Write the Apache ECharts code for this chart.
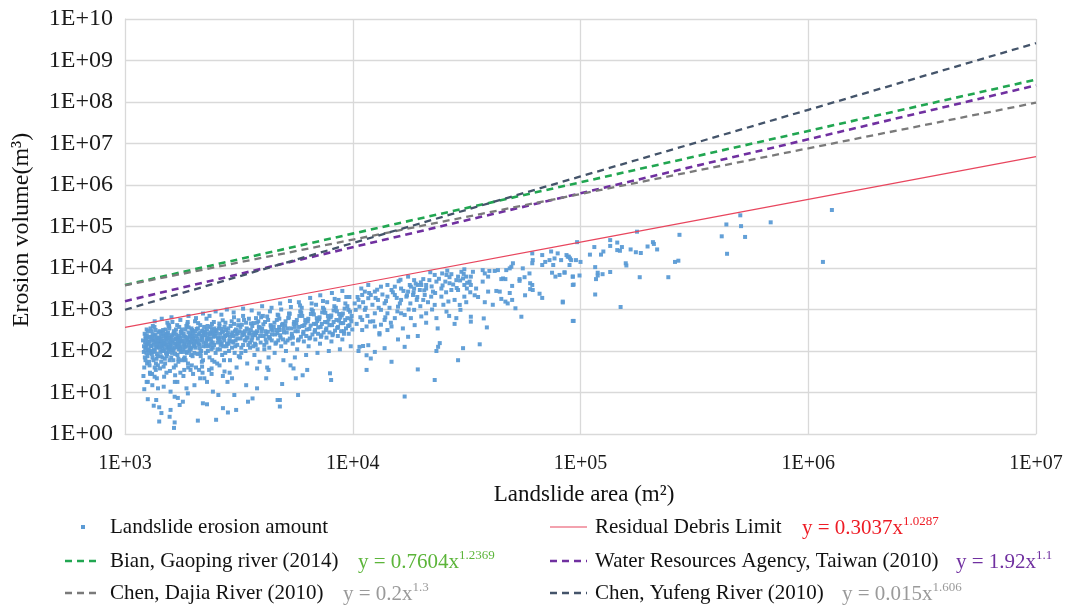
<!DOCTYPE html>
<html>
<head>
<meta charset="utf-8">
<script src="https://cdn.jsdelivr.net/npm/echarts@6/dist/echarts.min.js"></script>
<style>
html,body{margin:0;padding:0;background:#fff;}
#chart{width:1069px;height:606px;}
</style>
</head>
<body>
<div id="chart"></div>
<script>
// ---------------- DATA ----------------
const seriesNames = ['Landslide erosion amount','Residual Debris Limit','Bian, Gaoping river (2014)','Water Resources Agency, Taiwan (2010)','Chen, Dajia River (2010)','Chen, Yufeng River (2010)'];
const xTickLabels = ['1E+03','1E+04','1E+05','1E+06','1E+07'];
const yTickLabels = ['1E+00','1E+01','1E+02','1E+03','1E+04','1E+05','1E+06','1E+07','1E+08','1E+09','1E+10'];
const equations = ['y = 0.3037x|1.0287','y = 0.7604x|1.2369','y = 1.92x|1.1','y = 0.2x|1.3','y = 0.015x|1.606'];

// trend lines (read at each decade of landslide area)
const lineX    = [1e3, 1e4, 1e5, 1e6, 1e7];
const residualY = [370, 3955, 42230, 451400, 4824000];
const bianY     = [3905, 67390, 1162700, 20060000, 346200000];
const wraY      = [1589, 31700, 632500, 12620000, 251800000];
const dajiaY    = [3831, 48230, 607200, 7644000, 96230000];
const yufengY   = [986, 39820, 1607000, 64880000, 2619000000];

// scatter: landslide area (m2), erosion volume (m3)
const denseCloud = [
[1200,180],[1210,95],[1220,260],[1230,60],[1240,140],[1250,210],[1215,40],[1235,120],[1245,330],[1255,75],[1225,160],[1205,25],[1260,105],[1250,50],[1230,230],[1215,12],[1245,18],
[1270,150],[1280,90],[1290,220],[1300,130],[1310,300],[1320,70],[1330,180],[1340,110],[1350,40],[1360,250],[1370,160],[1380,85],[1390,200],[1400,120],[1275,55],[1295,350],[1315,28],[1335,140],[1355,190],[1375,65],[1395,45],[1285,170],[1305,100],[1325,400],[1345,230],[1365,35],[1385,130],[1405,280],
[1420,160],[1430,95],[1440,230],[1450,130],[1460,70],[1470,320],[1480,180],[1490,110],[1500,50],[1510,260],[1520,140],[1530,85],[1540,200],[1550,430],[1560,120],[1570,60],[1580,170],[1425,38],[1445,290],[1465,150],[1485,24],[1505,210],[1525,75],[1545,115],[1565,350],[1575,33],[1435,190],[1455,105],[1495,145],[1535,480],[1555,240],
[1590,140],[1600,220],[1610,90],[1620,170],[1630,60],[1640,300],[1650,120],[1660,190],[1670,45],[1680,250],[1690,150],[1700,80],[1710,210],[1720,110],[1730,380],[1740,160],[1750,30],[1760,130],[1770,270],[1595,70],[1615,500],[1635,105],[1655,18],[1675,200],[1695,125],[1715,55],[1735,175],[1755,95],[1775,330],
[1790,180],[1800,110],[1810,260],[1820,150],[1830,70],[1840,220],[1850,130],[1860,400],[1870,90],[1880,190],[1890,50],[1900,280],[1910,140],[1920,100],[1930,230],[1940,35],[1950,160],[1960,120],[1970,320],[1980,75],[1990,200],[1805,25],[1845,60],[1885,500],[1925,170],[1965,45],
[2000,210],[2020,130],[2040,300],[2060,170],[2080,85],[2100,250],[2120,140],[2140,420],[2160,100],[2180,190],[2200,60],[2220,280],[2010,150],[2050,40],[2090,350],[2130,115],[2170,230],[2210,160],[2230,22],[2030,520],[2150,75],[2190,30],
[2250,240],[2270,150],[2290,330],[2310,100],[2330,200],[2350,70],[2370,280],[2390,170],[2410,450],[2430,120],[2450,220],[2470,55],[2490,300],[2260,130],[2300,190],[2340,35],[2380,380],[2420,260],[2460,140],[2500,90],[2280,600],[2400,28],
[2520,260],[2550,160],[2580,350],[2610,110],[2640,210],[2670,80],[2700,300],[2730,180],[2760,480],[2790,130],[2810,240],[2540,50],[2600,400],[2660,150],[2720,60],[2780,320],[2570,200],[2690,25],[2750,230],[2630,140],
[2830,280],[2870,180],[2910,400],[2950,120],[2990,230],[3030,90],[3070,330],[3110,200],[3150,550],[2850,150],[2890,60],[2930,250],[2970,170],[3010,450],[3050,130],[3090,40],[3130,270],[2880,30],
[3180,300],[3220,200],[3260,430],[3300,140],[3340,250],[3380,100],[3420,350],[3460,210],[3500,600],[3540,160],[3200,70],[3280,280],[3360,180],[3440,50],[3520,260],[3240,120],[3400,480],
[3570,320],[3620,210],[3670,470],[3720,150],[3770,270],[3820,110],[3870,380],[3920,230],[3960,650],[3600,180],[3700,80],[3800,300],[3900,55],[3650,250],[3750,140],[3850,520],
[4000,350],[4060,230],[4120,500],[4180,160],[4240,290],[4300,120],[4360,420],[4420,250],[4030,700],[4150,190],[4270,70],[4390,330],[4090,110],[4210,40],[4330,200],
[4500,380],[4570,250],[4640,560],[4710,180],[4780,320],[4850,130],[4920,450],[4990,280],[4540,90],[4680,750],[4820,210],[4960,60],[4610,160],[4750,380],
[5050,420],[5130,280],[5210,620],[5290,200],[5370,350],[5450,150],[5530,500],[5600,300],[5090,100],[5250,800],[5410,230],[5570,70],[5170,180],[5330,45],
[5650,470],[5740,300],[5830,700],[5920,220],[6010,400],[6100,170],[6190,560],[6280,330],[5700,110],[5880,900],[6060,260],[6240,80],[5790,190],[5970,1100],
[6350,520],[6450,340],[6550,780],[6650,250],[6750,450],[6850,190],[6950,620],[7050,370],[6400,130],[6600,1000],[6800,290],[7000,90],[6500,210],[6900,1300],
[7120,580],[7230,380],[7340,850],[7450,280],[7560,500],[7670,210],[7780,700],[7900,420],[7180,150],[7400,1100],[7620,320],[7850,100],[7290,240],[7720,1500],
[8000,650],[8120,420],[8240,950],[8360,310],[8480,560],[8600,230],[8720,780],[8850,470],[8060,170],[8300,1200],[8540,360],[8780,110],[8180,260],[8660,1700],
[8950,720],[9080,470],[9210,1050],[9340,350],[9470,620],[9600,260],[9730,880],[9860,520],[9000,190],[9280,1400],[9540,400],[9800,130],[9150,300],[9670,2000]
];
const denseCloud2 = [
[1212,130],[1222,70],[1232,200],[1242,90],[1252,150],[1262,300],[1272,110],[1282,45],[1292,135],[1302,190],[1312,85],[1322,250],[1332,60],[1342,160],[1352,100],[1362,320],[1372,125],[1382,210],[1392,75],[1402,170],[1227,115],[1247,240],[1267,165],[1287,30],[1307,215],[1327,95],[1347,380],[1367,50],[1387,145],[1237,190],
[1412,210],[1424,120],[1436,75],[1448,180],[1460,260],[1472,100],[1484,155],[1496,65],[1508,330],[1520,190],[1532,125],[1544,280],[1556,95],[1568,205],[1580,145],[1418,300],[1442,55],[1466,130],[1490,230],[1514,90],[1538,160],[1562,400],[1586,110],[1430,140],[1478,42],[1526,250],[1574,130],
[1604,185],[1618,115],[1632,260],[1646,150],[1660,85],[1674,330],[1688,200],[1702,135],[1716,65],[1730,230],[1744,115],[1758,290],[1772,170],[1786,95],[1611,240],[1639,40],[1667,150],[1695,420],[1723,140],[1751,210],[1779,60],[1653,280],[1709,175],
[1806,230],[1822,140],[1838,330],[1854,95],[1870,210],[1886,160],[1902,370],[1918,120],[1934,260],[1950,80],[1966,190],[1982,300],[1998,140],[1814,65],[1846,180],[1878,440],[1910,210],[1942,110],[1974,240],[1830,120],[1894,40],[1958,350],
[2005,260],[2025,180],[2045,120],[2065,340],[2085,200],[2105,150],[2125,270],[2145,90],[2165,300],[2185,210],[2205,130],[2225,380],[2015,90],[2055,230],[2095,470],[2135,180],[2175,55],[2215,240],[2035,160],[2115,35],[2195,310],
[2255,290],[2280,180],[2305,400],[2330,130],[2355,250],[2380,200],[2405,320],[2430,160],[2455,500],[2480,230],[2265,90],[2315,260],[2365,140],[2415,60],[2465,350],[2295,210],[2395,110],[2445,280],
[2525,320],[2560,210],[2595,460],[2630,170],[2665,280],[2700,130],[2735,380],[2770,240],[2805,150],[2545,110],[2615,260],[2685,550],[2755,90],[2580,190],[2650,340],[2720,210],
[2840,350],[2890,220],[2940,520],[2990,160],[3040,300],[3090,250],[3140,420],[2860,100],[2960,280],[3060,180],[3160,75],[2910,170],[3010,650],[3110,140],
[3210,380],[3270,240],[3330,560],[3390,180],[3450,330],[3510,270],[3570,460],[3240,90],[3360,300],[3480,140],[3300,700],[3420,210],[3540,120],
[3620,400],[3690,280],[3760,620],[3830,200],[3900,360],[3970,290],[3660,130],[3800,480],[3940,160],[3730,240],[3870,800],
[4050,440],[4130,300],[4210,680],[4290,220],[4370,390],[4450,310],[4090,140],[4250,560],[4410,180],[4170,250],[4330,900],
[4530,480],[4620,320],[4710,720],[4800,240],[4890,420],[4980,340],[4580,150],[4760,600],[4940,190],[4670,270],[4850,1000],
[5070,520],[5180,350],[5290,790],[5400,260],[5510,450],[5060,160],[5240,650],[5460,210],[5350,1150],[5570,380],
[5680,560],[5810,380],[5940,850],[6070,290],[6200,480],[5750,180],[6000,700],[6250,230],[5870,1250],[6130,420],
[6380,600],[6530,410],[6680,920],[6830,320],[6980,530],[6450,200],[6750,760],[7040,260],[6600,1400],[6900,450],
[7150,650],[7320,450],[7490,1000],[7660,350],[7830,580],[7250,220],[7580,830],[7900,280],[7400,1600],[7750,490],
[8050,720],[8240,500],[8430,1100],[8620,380],[8810,640],[8150,240],[8520,900],[8890,300],[8330,1800],[8700,540],
[9050,800],[9260,560],[9470,1200],[9680,420],[9890,700],[9150,260],[9580,980],[9950,330],[9370,2000],[9800,600]
];
const upperEdge = [
[1350,520],[1450,600],[1600,650],[1750,560],[1900,700],[2050,620],[2200,800],[2350,700],[2500,900],[2650,750],[2800,1000],[3000,850],[3300,1050],[3600,950],[4000,1200],[4400,1100],[4800,1400],[5300,1600],[5800,1500],[6500,1900],[7200,2200],[8100,2500],[9000,2800],
[1290,28],[1380,22],[1520,30],[1660,26],[1820,35],[1990,28],[2180,42],[2400,38],[2600,45]
];
const lowTail = [
[3404,15],[3467,6],[3631,7.2],[3800,12.6],[4786,6.6],[4786,4.6],[5754,8.7],[4898,16],[5623,22],[6026,26],[6310,35],[7943,29],[8035,20],[4169,22],[4266,35],[3802,38],[5495,38],
[1259,18],[1318,15],[1396,12.6],[1349,24],[1479,13.8],[1585,10.5],[1698,18],[1862,12.6],[1888,9.5],[2018,15],[2138,22],[2291,18],[2432,10.5],[2570,8.7],[2818,18],[2951,22],[3020,8.7],[2735,32],
[1259,6.9],[1371,6.6],[1337,4.8],[1413,4.4],[1445,3.2],[1413,2.0],[1570,2.6],[1585,3.8],[1652,7.9],[1706,7.4],[1795,6.0],[1641,1.4],[1652,1.9],[2089,2.1],[2198,5.5],[2291,5.2],[2512,2.2],[2692,4.2],[2831,3.3],[3076,3.8],[1738,5.0],[4677,6.6]
];
const midCloud = [
[17500,6200],[20400,5400],[24700,7400],[25800,6800],[27100,7100],[22900,6800],[23300,4700],[28500,5100],[30000,8100],[30900,9300],[30500,5600],[32600,4700],[30900,3900],[26600,4300],[27100,2950],[24500,3200],[22500,2700],[22100,2040],[21000,3200],[20000,3900],[18600,3200],[18400,2240],[19100,1700],[20400,1700],[21000,810],[20000,680],[23300,620],[22900,1290],[25800,890],[28500,620],[29500,1290],[30900,2040],[24100,155],[23700,126],[23300,100],[30500,117],[29000,60],[19300,36],[22900,20],[16900,8],[14800,55],[16900,126],[19300,230],[17500,220],[15800,190],[13800,117],[12500,95],[12000,66],[11500,79],[11700,138],[11100,132],[10700,126],[10600,100],[11500,35],[14800,390],[14200,320],[13100,270],[13300,430],[12500,390],[11900,510],[11500,390],[15800,1170],[16300,810],[15300,620],[16900,740],[18000,620],[18600,980],[16300,1700],[17200,2040],[15300,2240],[14800,2950],[15300,3550],[16300,3200],[14200,2040],[13800,1410],[12900,1700],[12500,2700],[12000,2240],[11700,1870],[11300,2700],[11000,2240],[10600,1700],[10700,1170],[10300,980],[11300,980],[12500,810],[13300,980],[14200,810],[13800,560],[11000,560],[11700,3900],[13300,3550],[14200,3900],[17500,2700],[18000,3550],[18600,5100],[19700,2950],[20700,2240],[24500,2040],[26300,1560],[28000,1700],[29000,2950],[31700,3200],[33000,6200],[31500,6200],[29000,6200],[25500,4700],[21700,5100],[21000,3900],[19300,3900],[17800,3900]
];
const midCloud2 = [
[10200,1400],[10500,2000],[10800,650],[11100,1500],[11400,1100],[11800,2500],[12200,1300],[12600,1900],[13000,1100],[13500,2300],[14000,1600],[14500,1100],[15000,2600],[15600,1900],[16100,1400],[16700,2800],[17300,2200],[17900,1400],[18500,2600],[19200,2000],[19900,4500],[20600,2900],[21400,1500],[22200,3600],[23000,2500],[23900,5500],[24800,3800],[25700,2600],[26600,6000],[27600,4000],[28600,3300],[29600,5000],[30700,7200],[31800,4400],[32800,2600],
[10400,450],[11000,320],[11600,700],[12300,520],[13100,250],[13900,650],[14700,480],[15700,900],[16600,350],[17600,1000],[18700,420],[19800,1200],[21000,480],[22300,1000],[23600,350],[25000,1300],[26500,700],[28000,450],[29700,980],[31500,1500],
[10900,3200],[12800,3000],[15900,4800],[18900,4200],[21900,7900],[26000,8600],[16200,5200]
];
const upperCloud = [
[96600,42000],[74300,25000],[79400,22500],[88900,18700],[91000,15500],[95500,15500],[76900,17000],[82200,15500],[73100,15500],[67900,11800],[61700,15500],[61400,13000],[70000,14000],[75900,11800],[77600,6200],[80900,6800],[85100,7700],[75000,7700],[92500,6200],[93300,4000],[83600,1550],[93300,530],[55800,9800],[56800,6000],[59700,7400],[60100,3100],[54000,5400],[54000,4900],[57100,2200],[66100,2400],[67900,1900],[61700,2950],[55000,670],[51800,1070],[49700,10700],[50500,13000],[48900,9800],[47200,8900],[45700,5600],[44900,5400],[46800,5400],[50100,3700],[48900,2500],[44900,1800],[46800,1550],[47900,1400],[50100,1700],[43400,8900],[42000,8500],[44200,2700],[42700,2800],[41200,1300],[39800,8500],[39300,6200],[39300,2700],[38000,1500],[37200,8900],[38000,7400],[37200,4700],[34800,3200],[34300,2200],[35500,2000],[33700,8100],[33000,3900],[33000,670],[33000,510],[37600,610],[38800,370],[36100,145],[61400,3900],[60100,4300],[61400,22500],[67900,20500],[86800,20500],[90000,17000],
[87900,18700],[89500,11800],[85100,7900],[92500,6200],[92500,3900],[83600,1480],[92500,530]
];
const sparseRight = [
[100000,14000],[99000,6600],[115000,32000],[110000,21000],[123000,21000],[126000,25000],[116000,10500],[119000,7700],[119000,6600],[117000,5400],[125000,7100],[116000,2300],[135000,47000],[135000,34000],[135000,8000],[145000,41000],[145000,27000],[149000,26000],[152000,32000],[158000,13000],[159000,11500],[150000,1150],[166000,28000],[175000,24000],[177000,75000],[184000,23000],[182000,6000],[197000,33000],[208000,42000],[210000,38000],[217000,28000],[243000,6000],[260000,14000],[269000,15000],[272000,63000],[417000,58000],[437000,112000],[440000,22000],[503000,186000],[507000,102000],[528000,56000],[684000,126000],[1160000,14000],[1270000,250000]
];

// ---------------- CHART ----------------
const FONT = '"Liberation Serif","Times New Roman",serif';
const chart = echarts.init(document.getElementById('chart'), null, {renderer: 'canvas'});

function pairs(xs, ys){ return xs.map((x,i)=>[x, ys[i]]); }
const points = denseCloud.concat(denseCloud2, upperEdge, lowTail, midCloud, midCloud2, upperCloud, sparseRight);

const C = {pts:'#5b9bd5', res:'#e8465e', bian:'#21a651', wra:'#7030a0', dajia:'#7a7a7a', yufeng:'#44546a'};
const DASH = [7,5];

function lineSeries(name, ys, color, width, dashed){
  return {
    name: name, type: 'line', data: pairs(lineX, ys),
    symbol: 'none', showSymbol: false, smooth: false, z: 3,
    lineStyle: {color: color, width: width, type: dashed ? DASH : 'solid'},
    itemStyle: {color: color}, silent: true
  };
}

function eqText(x, y, eq, color){
  const parts = eq.split('|');
  return {
    type: 'text', x: x, y: y,
    style: {
      text: '{b|' + parts[0] + '}{s|' + parts[1] + '}',
      verticalAlign: 'middle', align: 'left',
      rich: {
        b: {fontSize: 21, fontFamily: FONT, fill: color, lineHeight: 24, verticalAlign: 'bottom'},
        s: {fontSize: 13, fontFamily: FONT, fill: color, lineHeight: 24, verticalAlign: 'top'}
      }
    }
  };
}
function legText(x, y, t){
  return {type: 'text', x: x, y: y, style: {text: t, fontFamily: FONT, fontSize: 21, fill: '#111', align: 'left', verticalAlign: 'middle'}};
}
function legLine(x1, x2, y, color, width, dashed){
  return {type: 'line', shape: {x1: x1, y1: y, x2: x2, y2: y},
          style: {stroke: color, lineWidth: width, lineDash: dashed ? DASH : null}};
}

const rows = [527, 561, 593];

const option = {
  animation: false,
  backgroundColor: '#fff',
  grid: {left: 125, right: 33, top: 19, bottom: 172, containLabel: false},
  xAxis: {
    type: 'log', logBase: 10, min: 1e3, max: 1e7, interval: 1, splitNumber: 4,
    axisLine: {show: true, lineStyle: {color: '#d9d9d9', width: 1}},
    axisTick: {show: false},
    splitLine: {show: true, lineStyle: {color: '#d9d9d9', width: 1.3}},
    axisLabel: {
      margin: 20, fontFamily: FONT, fontSize: 20, color: '#1a1a1a',
      formatter: function(v){ return xTickLabels[Math.round(Math.log10(v)) - 3]; }
    }
  },
  yAxis: {
    type: 'log', logBase: 10, min: 1, max: 1e10, interval: 1, splitNumber: 10,
    axisLine: {show: true, lineStyle: {color: '#d9d9d9', width: 1}},
    axisTick: {show: false},
    splitLine: {show: true, lineStyle: {color: '#d9d9d9', width: 1.3}},
    axisLabel: {
      margin: 12, fontFamily: FONT, fontSize: 24, color: '#1a1a1a',
      formatter: function(v){ return yTickLabels[Math.round(Math.log10(v))]; }
    }
  },
  graphic: [
    {type: 'text', x: 22, y: 230, rotation: Math.PI/2,
     style: {text: 'Erosion volume(m³)', fontFamily: FONT, fontSize: 24, fill: '#111', align: 'center', verticalAlign: 'middle'}},
    {type: 'text', x: 584, y: 495,
     style: {text: 'Landslide area (m²)', fontFamily: FONT, fontSize: 23, fill: '#111', align: 'center', verticalAlign: 'middle'}},
    // legend, left column
    {type: 'rect', shape: {x: 81, y: rows[0] - 2, width: 4, height: 4}, style: {fill: C.pts}},
    legText(110, rows[0], seriesNames[0]),
    legLine(65, 100, rows[1], C.bian, 2.6, true),
    legText(110, rows[1], seriesNames[2]),
    legLine(65, 100, rows[2], C.dajia, 2.3, true),
    legText(110, rows[2], seriesNames[4]),
    // legend, right column
    legLine(550, 587, rows[0], C.res, 1.2, false),
    legText(595, rows[0], seriesNames[1]),
    legLine(550, 587, rows[1], C.wra, 2.6, true),
    legText(595, rows[1], seriesNames[3]),
    legLine(550, 587, rows[2], C.yufeng, 2.3, true),
    legText(595, rows[2], seriesNames[5]),
    // equations
    eqText(802, rows[0], equations[0], '#ee1c25'),
    eqText(358, rows[1], equations[1], '#5cb53a'),
    eqText(956, rows[1], equations[2], '#7030a0'),
    eqText(343, rows[2], equations[3], '#9a9a9a'),
    eqText(842, rows[2], equations[4], '#9a9a9a')
  ],
  series: [
    {name: seriesNames[0], type: 'scatter', data: points, symbol: 'rect', symbolSize: 4,
     itemStyle: {color: C.pts, opacity: 0.95}, z: 2, silent: true},
    lineSeries(seriesNames[1], residualY, C.res, 1.2, false),
    lineSeries(seriesNames[2], bianY, C.bian, 2.6, true),
    lineSeries(seriesNames[3], wraY, C.wra, 2.6, true),
    lineSeries(seriesNames[4], dajiaY, C.dajia, 2.3, true),
    lineSeries(seriesNames[5], yufengY, C.yufeng, 2.3, true)
  ]
};
chart.setOption(option);
</script>
</body>
</html>
